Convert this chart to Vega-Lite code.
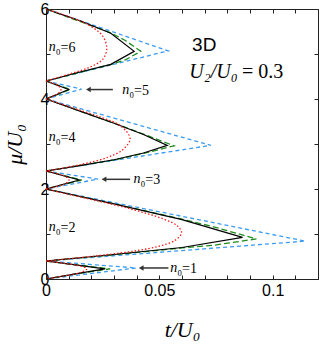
{
  "$schema": "https://vega.github.io/schema/vega-lite/v6.json",
  "width": 272,
  "height": 270,
  "autosize": {"type": "none"},
  "padding": {"left": 46, "top": 9, "right": 3, "bottom": 67},
  "background": "white",
  "config": {
    "view": {"stroke": "#222", "strokeWidth": 1},
    "axis": {"grid": false, "domain": false, "tickColor": "#222", "labelFont": "Liberation Sans", "labelFontSize": 16, "labelColor": "black", "titleFont": "Liberation Serif", "titleFontStyle": "italic", "titleFontWeight": "normal", "titleFontSize": 22, "titleColor": "black"}
  },
  "datasets": {
    "curves": [
      {"s": "blue", "lobe": 1, "i": 0, "t": 0, "mu": 0.4},
      {"s": "blue", "lobe": 1, "i": 1, "t": 0.0398, "mu": 0.245},
      {"s": "blue", "lobe": 1, "i": 2, "t": 0, "mu": 0},
      {"s": "blue", "lobe": 2, "i": 0, "t": 0, "mu": 2.0},
      {"s": "blue", "lobe": 2, "i": 1, "t": 0.1144, "mu": 0.842},
      {"s": "blue", "lobe": 2, "i": 2, "t": 0, "mu": 0.4},
      {"s": "blue", "lobe": 3, "i": 0, "t": 0, "mu": 2.4},
      {"s": "blue", "lobe": 3, "i": 1, "t": 0.023, "mu": 2.22},
      {"s": "blue", "lobe": 3, "i": 2, "t": 0, "mu": 2.0},
      {"s": "blue", "lobe": 4, "i": 0, "t": 0, "mu": 4.0},
      {"s": "blue", "lobe": 4, "i": 1, "t": 0.0727, "mu": 2.97},
      {"s": "blue", "lobe": 4, "i": 2, "t": 0, "mu": 2.4},
      {"s": "blue", "lobe": 5, "i": 0, "t": 0, "mu": 4.4},
      {"s": "blue", "lobe": 5, "i": 1, "t": 0.0157, "mu": 4.22},
      {"s": "blue", "lobe": 5, "i": 2, "t": 0, "mu": 4.0},
      {"s": "blue", "lobe": 6, "i": 0, "t": 0, "mu": 6.0},
      {"s": "blue", "lobe": 6, "i": 1, "t": 0.0539, "mu": 5.07},
      {"s": "blue", "lobe": 6, "i": 2, "t": 0, "mu": 4.4},

      {"s": "green", "lobe": 1, "i": 0, "t": 0, "mu": 0.4},
      {"s": "green", "lobe": 1, "i": 1, "t": 0.013, "mu": 0.315},
      {"s": "green", "lobe": 1, "i": 2, "t": 0.0283, "mu": 0.225},
      {"s": "green", "lobe": 1, "i": 3, "t": 0.013, "mu": 0.113},
      {"s": "green", "lobe": 1, "i": 4, "t": 0, "mu": 0},
      {"s": "green", "lobe": 2, "i": 0, "t": 0, "mu": 2.0},
      {"s": "green", "lobe": 2, "i": 1, "t": 0.03, "mu": 1.67},
      {"s": "green", "lobe": 2, "i": 2, "t": 0.06, "mu": 1.33},
      {"s": "green", "lobe": 2, "i": 3, "t": 0.0739, "mu": 1.16},
      {"s": "green", "lobe": 2, "i": 4, "t": 0.0928, "mu": 0.89},
      {"s": "green", "lobe": 2, "i": 5, "t": 0.0739, "mu": 0.75},
      {"s": "green", "lobe": 2, "i": 6, "t": 0.06, "mu": 0.69},
      {"s": "green", "lobe": 2, "i": 7, "t": 0.03, "mu": 0.54},
      {"s": "green", "lobe": 2, "i": 8, "t": 0, "mu": 0.4},
      {"s": "green", "lobe": 3, "i": 0, "t": 0, "mu": 2.4},
      {"s": "green", "lobe": 3, "i": 1, "t": 0.0157, "mu": 2.2},
      {"s": "green", "lobe": 3, "i": 2, "t": 0, "mu": 2.0},
      {"s": "green", "lobe": 4, "i": 0, "t": 0, "mu": 4.0},
      {"s": "green", "lobe": 4, "i": 1, "t": 0.03, "mu": 3.465},
      {"s": "green", "lobe": 4, "i": 2, "t": 0.043, "mu": 3.22},
      {"s": "green", "lobe": 4, "i": 3, "t": 0.0565, "mu": 2.96},
      {"s": "green", "lobe": 4, "i": 4, "t": 0.043, "mu": 2.79},
      {"s": "green", "lobe": 4, "i": 5, "t": 0.03, "mu": 2.645},
      {"s": "green", "lobe": 4, "i": 6, "t": 0, "mu": 2.4},
      {"s": "green", "lobe": 5, "i": 0, "t": 0, "mu": 4.4},
      {"s": "green", "lobe": 5, "i": 1, "t": 0.0107, "mu": 4.21},
      {"s": "green", "lobe": 5, "i": 2, "t": 0, "mu": 4.0},
      {"s": "green", "lobe": 6, "i": 0, "t": 0, "mu": 6.0},
      {"s": "green", "lobe": 6, "i": 1, "t": 0.0286, "mu": 5.47},
      {"s": "green", "lobe": 6, "i": 2, "t": 0.035, "mu": 5.3},
      {"s": "green", "lobe": 6, "i": 3, "t": 0.0418, "mu": 5.06},
      {"s": "green", "lobe": 6, "i": 4, "t": 0.035, "mu": 4.87},
      {"s": "green", "lobe": 6, "i": 5, "t": 0.0286, "mu": 4.765},
      {"s": "green", "lobe": 6, "i": 6, "t": 0, "mu": 4.4},

      {"s": "black", "lobe": 1, "i": 0, "t": 0, "mu": 0.4},
      {"s": "black", "lobe": 1, "i": 1, "t": 0.013, "mu": 0.315},
      {"s": "black", "lobe": 1, "i": 2, "t": 0.026, "mu": 0.225},
      {"s": "black", "lobe": 1, "i": 3, "t": 0.013, "mu": 0.115},
      {"s": "black", "lobe": 1, "i": 4, "t": 0, "mu": 0},
      {"s": "black", "lobe": 2, "i": 0, "t": 0, "mu": 2.0},
      {"s": "black", "lobe": 2, "i": 1, "t": 0.03, "mu": 1.67},
      {"s": "black", "lobe": 2, "i": 2, "t": 0.06, "mu": 1.32},
      {"s": "black", "lobe": 2, "i": 3, "t": 0.0867, "mu": 0.925},
      {"s": "black", "lobe": 2, "i": 4, "t": 0.06, "mu": 0.70},
      {"s": "black", "lobe": 2, "i": 5, "t": 0.03, "mu": 0.545},
      {"s": "black", "lobe": 2, "i": 6, "t": 0, "mu": 0.4},
      {"s": "black", "lobe": 3, "i": 0, "t": 0, "mu": 2.4},
      {"s": "black", "lobe": 3, "i": 1, "t": 0.0147, "mu": 2.2},
      {"s": "black", "lobe": 3, "i": 2, "t": 0, "mu": 2.0},
      {"s": "black", "lobe": 4, "i": 0, "t": 0, "mu": 4.0},
      {"s": "black", "lobe": 4, "i": 1, "t": 0.015, "mu": 3.73},
      {"s": "black", "lobe": 4, "i": 2, "t": 0.03, "mu": 3.46},
      {"s": "black", "lobe": 4, "i": 3, "t": 0.043, "mu": 3.21},
      {"s": "black", "lobe": 4, "i": 4, "t": 0.0535, "mu": 2.97},
      {"s": "black", "lobe": 4, "i": 5, "t": 0.043, "mu": 2.8},
      {"s": "black", "lobe": 4, "i": 6, "t": 0.03, "mu": 2.65},
      {"s": "black", "lobe": 4, "i": 7, "t": 0.015, "mu": 2.52},
      {"s": "black", "lobe": 4, "i": 8, "t": 0, "mu": 2.4},
      {"s": "black", "lobe": 5, "i": 0, "t": 0, "mu": 4.4},
      {"s": "black", "lobe": 5, "i": 1, "t": 0.01, "mu": 4.21},
      {"s": "black", "lobe": 5, "i": 2, "t": 0, "mu": 4.0},
      {"s": "black", "lobe": 6, "i": 0, "t": 0, "mu": 6.0},
      {"s": "black", "lobe": 6, "i": 1, "t": 0.015, "mu": 5.74},
      {"s": "black", "lobe": 6, "i": 2, "t": 0.0286, "mu": 5.46},
      {"s": "black", "lobe": 6, "i": 3, "t": 0.0389, "mu": 5.06},
      {"s": "black", "lobe": 6, "i": 4, "t": 0.0286, "mu": 4.77},
      {"s": "black", "lobe": 6, "i": 5, "t": 0.015, "mu": 4.6},
      {"s": "black", "lobe": 6, "i": 6, "t": 0, "mu": 4.4},

      {"s": "red", "lobe": 1, "i": 0, "t": 0, "mu": 0.4},
      {"s": "red", "lobe": 1, "i": 1, "t": 0.008, "mu": 0.35},
      {"s": "red", "lobe": 1, "i": 2, "t": 0.014, "mu": 0.3},
      {"s": "red", "lobe": 1, "i": 3, "t": 0.018, "mu": 0.225},
      {"s": "red", "lobe": 1, "i": 4, "t": 0.015, "mu": 0.14},
      {"s": "red", "lobe": 1, "i": 5, "t": 0.008, "mu": 0.07},
      {"s": "red", "lobe": 1, "i": 6, "t": 0, "mu": 0},
      {"s": "red", "lobe": 2, "i": 0, "t": 0, "mu": 2.0},
      {"s": "red", "lobe": 2, "i": 1, "t": 0.01, "mu": 1.88},
      {"s": "red", "lobe": 2, "i": 2, "t": 0.025, "mu": 1.71},
      {"s": "red", "lobe": 2, "i": 3, "t": 0.04, "mu": 1.52},
      {"s": "red", "lobe": 2, "i": 4, "t": 0.052, "mu": 1.33},
      {"s": "red", "lobe": 2, "i": 5, "t": 0.058, "mu": 1.18},
      {"s": "red", "lobe": 2, "i": 6, "t": 0.0598, "mu": 1.03},
      {"s": "red", "lobe": 2, "i": 7, "t": 0.057, "mu": 0.86},
      {"s": "red", "lobe": 2, "i": 8, "t": 0.05, "mu": 0.73},
      {"s": "red", "lobe": 2, "i": 9, "t": 0.04, "mu": 0.63},
      {"s": "red", "lobe": 2, "i": 10, "t": 0.025, "mu": 0.53},
      {"s": "red", "lobe": 2, "i": 11, "t": 0.012, "mu": 0.46},
      {"s": "red", "lobe": 2, "i": 12, "t": 0, "mu": 0.4},
      {"s": "red", "lobe": 3, "i": 0, "t": 0, "mu": 2.4},
      {"s": "red", "lobe": 3, "i": 1, "t": 0.005, "mu": 2.34},
      {"s": "red", "lobe": 3, "i": 2, "t": 0.0085, "mu": 2.28},
      {"s": "red", "lobe": 3, "i": 3, "t": 0.0101, "mu": 2.2},
      {"s": "red", "lobe": 3, "i": 4, "t": 0.0085, "mu": 2.12},
      {"s": "red", "lobe": 3, "i": 5, "t": 0.005, "mu": 2.06},
      {"s": "red", "lobe": 3, "i": 6, "t": 0, "mu": 2.0},
      {"s": "red", "lobe": 4, "i": 0, "t": 0, "mu": 4.0},
      {"s": "red", "lobe": 4, "i": 1, "t": 0.012, "mu": 3.8},
      {"s": "red", "lobe": 4, "i": 2, "t": 0.025, "mu": 3.58},
      {"s": "red", "lobe": 4, "i": 3, "t": 0.033, "mu": 3.4},
      {"s": "red", "lobe": 4, "i": 4, "t": 0.0371, "mu": 3.12},
      {"s": "red", "lobe": 4, "i": 5, "t": 0.034, "mu": 2.88},
      {"s": "red", "lobe": 4, "i": 6, "t": 0.027, "mu": 2.7},
      {"s": "red", "lobe": 4, "i": 7, "t": 0.015, "mu": 2.54},
      {"s": "red", "lobe": 4, "i": 8, "t": 0, "mu": 2.4},
      {"s": "red", "lobe": 5, "i": 0, "t": 0, "mu": 4.4},
      {"s": "red", "lobe": 5, "i": 1, "t": 0.003, "mu": 4.35},
      {"s": "red", "lobe": 5, "i": 2, "t": 0.0055, "mu": 4.29},
      {"s": "red", "lobe": 5, "i": 3, "t": 0.0066, "mu": 4.21},
      {"s": "red", "lobe": 5, "i": 4, "t": 0.0055, "mu": 4.13},
      {"s": "red", "lobe": 5, "i": 5, "t": 0.003, "mu": 4.065},
      {"s": "red", "lobe": 5, "i": 6, "t": 0, "mu": 4.0},
      {"s": "red", "lobe": 6, "i": 0, "t": 0, "mu": 6.0},
      {"s": "red", "lobe": 6, "i": 1, "t": 0.01, "mu": 5.83},
      {"s": "red", "lobe": 6, "i": 2, "t": 0.019, "mu": 5.64},
      {"s": "red", "lobe": 6, "i": 3, "t": 0.025, "mu": 5.4},
      {"s": "red", "lobe": 6, "i": 4, "t": 0.0268, "mu": 5.12},
      {"s": "red", "lobe": 6, "i": 5, "t": 0.025, "mu": 4.88},
      {"s": "red", "lobe": 6, "i": 6, "t": 0.019, "mu": 4.7},
      {"s": "red", "lobe": 6, "i": 7, "t": 0.01, "mu": 4.55},
      {"s": "red", "lobe": 6, "i": 8, "t": 0, "mu": 4.4}
    ],
    "labels": [
      {"n": "n", "rest": "₀=6", "t": 0.0012, "mu": 5.16},
      {"n": "n", "rest": "₀=4", "t": 0.0012, "mu": 3.15},
      {"n": "n", "rest": "₀=2", "t": 0.0012, "mu": 1.15},
      {"n": "n", "rest": "₀=5", "t": 0.0336, "mu": 4.21},
      {"n": "n", "rest": "₀=3", "t": 0.0386, "mu": 2.215},
      {"n": "n", "rest": "₀=1", "t": 0.0548, "mu": 0.245}
    ],
    "arrows": [
      {"head": 0.0187, "tail": 0.0295, "mu": 4.21},
      {"head": 0.0256, "tail": 0.0371, "mu": 2.215},
      {"head": 0.042, "tail": 0.054, "mu": 0.245}
    ],
    "note3d": [{"txt": "3D", "t": 0.0698, "mu": 5.2}],
    "noteU": [{"txt": "U₂/U₀", "t": 0.0632, "mu": 4.6}],
    "noteV": [{"txt": "= 0.3", "t": 0.0865, "mu": 4.6}]
  },
  "layer": [
    {
      "data": {"name": "curves"},
      "transform": [{"filter": "datum.s == 'blue'"}],
      "mark": {"type": "line", "color": "#3a9cf0", "strokeWidth": 1.3, "strokeDash": [4, 3]},
      "encoding": {
        "x": {"field": "t", "type": "quantitative", "scale": {"domain": [0, 0.12], "nice": false, "zero": false},
          "axis": {"orient": "bottom", "values": [0, 0.01, 0.02, 0.03, 0.04, 0.05, 0.06, 0.07, 0.08, 0.09, 0.1, 0.11, 0.12], "labelExpr": "(round(datum.value*100) % 5 == 0 && datum.value < 0.115) ? format(datum.value, '~g') : ''", "tickSize": -4, "labelPadding": 7, "labelFlush": false, "title": "t/U₀", "titleY": 57, "titleBaseline": "alphabetic"}},
        "y": {"field": "mu", "type": "quantitative", "scale": {"domain": [0, 6], "nice": false},
          "axis": {"orient": "left", "values": [0, 1, 2, 3, 4, 5, 6], "labelExpr": "datum.value % 2 == 0 ? datum.label : ''", "tickSize": -4, "labelPadding": 1, "labelFlush": false, "title": "μ/U₀", "titleX": -25, "titleBaseline": "alphabetic"}},
        "detail": {"field": "lobe"},
        "order": {"field": "i", "type": "quantitative"}
      }
    },
    {
      "data": {"name": "curves"},
      "transform": [{"filter": "datum.s == 'green'"}],
      "mark": {"type": "line", "color": "#1e8c1e", "strokeWidth": 1.3, "strokeDash": [6, 3]},
      "encoding": {
        "x": {"field": "t", "type": "quantitative", "axis": {"orient": "top", "values": [0, 0.01, 0.02, 0.03, 0.04, 0.05, 0.06, 0.07, 0.08, 0.09, 0.1, 0.11, 0.12], "labels": false, "tickSize": -4, "title": null}},
        "y": {"field": "mu", "type": "quantitative", "axis": {"orient": "right", "values": [0, 1, 2, 3, 4, 5, 6], "labels": false, "tickSize": -4, "title": null}},
        "detail": {"field": "lobe"},
        "order": {"field": "i", "type": "quantitative"}
      }
    },
    {
      "data": {"name": "curves"},
      "transform": [{"filter": "datum.s == 'black'"}],
      "mark": {"type": "line", "color": "black", "strokeWidth": 1.2},
      "encoding": {
        "x": {"field": "t", "type": "quantitative", "axis": null},
        "y": {"field": "mu", "type": "quantitative", "axis": null},
        "detail": {"field": "lobe"},
        "order": {"field": "i", "type": "quantitative"}
      }
    },
    {
      "data": {"name": "curves"},
      "transform": [{"filter": "datum.s == 'red'"}],
      "mark": {"type": "line", "color": "#ff1a1a", "strokeWidth": 1.3, "strokeDash": [1.5, 2], "interpolate": "catmull-rom"},
      "encoding": {
        "x": {"field": "t", "type": "quantitative", "axis": null},
        "y": {"field": "mu", "type": "quantitative", "axis": null},
        "detail": {"field": "lobe"},
        "order": {"field": "i", "type": "quantitative"}
      }
    },
    {
      "data": {"name": "arrows"},
      "mark": {"type": "rule", "color": "#333", "strokeWidth": 1.5},
      "encoding": {
        "x": {"field": "head", "type": "quantitative", "axis": null},
        "x2": {"field": "tail"},
        "y": {"field": "mu", "type": "quantitative", "axis": null}
      }
    },
    {
      "data": {"name": "arrows"},
      "mark": {"type": "point", "shape": "triangle-left", "filled": true, "color": "#333", "size": 30, "opacity": 1},
      "encoding": {
        "x": {"field": "head", "type": "quantitative", "axis": null},
        "y": {"field": "mu", "type": "quantitative", "axis": null}
      }
    },
    {
      "data": {"name": "labels"},
      "mark": {"type": "text", "font": "Liberation Serif", "fontStyle": "italic", "fontSize": 14, "align": "left", "baseline": "middle", "color": "black"},
      "encoding": {
        "x": {"field": "t", "type": "quantitative", "axis": null},
        "y": {"field": "mu", "type": "quantitative", "axis": null},
        "text": {"field": "n"}
      }
    },
    {
      "data": {"name": "labels"},
      "mark": {"type": "text", "font": "Liberation Serif", "fontSize": 14, "align": "left", "baseline": "middle", "dx": 7, "dy": 1, "color": "black"},
      "encoding": {
        "x": {"field": "t", "type": "quantitative", "axis": null},
        "y": {"field": "mu", "type": "quantitative", "axis": null},
        "text": {"field": "rest"}
      }
    },
    {
      "data": {"name": "note3d"},
      "mark": {"type": "text", "font": "Liberation Sans", "fontSize": 19, "align": "center", "baseline": "middle", "color": "black"},
      "encoding": {
        "x": {"field": "t", "type": "quantitative", "axis": null},
        "y": {"field": "mu", "type": "quantitative", "axis": null},
        "text": {"field": "txt"}
      }
    },
    {
      "data": {"name": "noteU"},
      "mark": {"type": "text", "font": "Liberation Serif", "fontStyle": "italic", "fontSize": 20, "align": "left", "baseline": "middle", "color": "black"},
      "encoding": {
        "x": {"field": "t", "type": "quantitative", "axis": null},
        "y": {"field": "mu", "type": "quantitative", "axis": null},
        "text": {"field": "txt"}
      }
    },
    {
      "data": {"name": "noteV"},
      "mark": {"type": "text", "font": "Liberation Serif", "fontSize": 20, "align": "left", "baseline": "middle", "color": "black"},
      "encoding": {
        "x": {"field": "t", "type": "quantitative", "axis": null},
        "y": {"field": "mu", "type": "quantitative", "axis": null},
        "text": {"field": "txt"}
      }
    }
  ],
  "resolve": {"axis": {"x": "independent", "y": "independent"}}
}
